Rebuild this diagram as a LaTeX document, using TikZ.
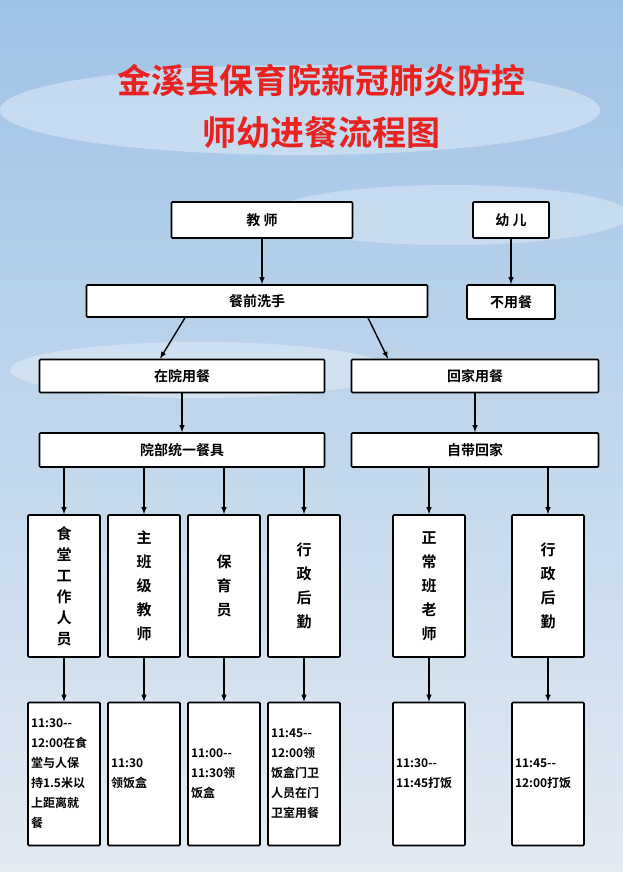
\documentclass[tikz,border=0pt]{standalone}
\usepackage{fontspec}
\setmainfont{Noto Sans CJK SC}[BoldFont={* Bold}]
\usetikzlibrary{positioning}
\definecolor{skytop}{HTML}{9FC3E6}
\definecolor{skybot}{HTML}{E3EAF2}
\definecolor{titlered}{HTML}{E8231F}
\begin{document}
\begin{tikzpicture}
[
 x=1pt,y=-1pt,
 >={latex},
 line width=1.6pt,
 font=\bfseries\fontsize{14}{17}\selectfont,
 box/.style={draw=black,rectangle,fill=white,rounded corners=1pt,inner sep=0pt},
 hbox/.style={box,minimum height=33pt},
 vbox/.style={box,minimum width=72pt,minimum height=142pt,align=center,font=\bfseries\fontsize{15}{24}\selectfont},
 tbox/.style={box,minimum width=72pt,minimum height=143pt,align=left,text width=66pt,font=\bfseries\fontsize{12}{20}\selectfont},
 flow/.style={->,line width=1.4pt}
]
\useasboundingbox (0,0) rectangle (623,872);
\shade[top color=skytop,bottom color=skybot] (0,0) rectangle (623,872);
% clouds
\fill[white,opacity=0.35] (300,110) ellipse (300 and 45);
\fill[white,opacity=0.3] (450,215) ellipse (180 and 30);
\fill[white,opacity=0.3] (200,370) ellipse (190 and 28);
% title
\node (title1) [text=titlered,font=\bfseries\fontsize{34}{38}\selectfont] at (321,80) {金溪县保育院新冠肺炎防控};
\node (title2) [text=titlered,font=\bfseries\fontsize{34}{38}\selectfont] at (321,133) {师幼进餐流程图};
% upper boxes
\node (teacher) [hbox,minimum width=181pt,minimum height=36pt] at (262,220) {教\ 师};
\node (child) [hbox,minimum width=76pt,minimum height=36pt] at (511,220) {幼\ 儿};
\node (wash) [hbox,minimum width=341pt,minimum height=32pt] at (257,301) {餐前洗手};
\node (noeat) [hbox,minimum width=88pt,minimum height=34pt] at (511,302) {不用餐};
\node (inside) [hbox,minimum width=285pt] at (182,376) {在院用餐};
\node (home) [hbox,minimum width=247pt] at (475,376) {回家用餐};
\node (unified) [hbox,minimum width=285pt,minimum height=34pt] at (182,450) {院部统一餐具};
\node (own) [hbox,minimum width=247pt,minimum height=34pt] at (475,450) {自带回家};
% columns
\node (canteen) [vbox,font=\bfseries\fontsize{15}{21}\selectfont] at (64,586) {食\\堂\\工\\作\\人\\员};
\node (mainteach) [vbox] at (144,586) {主\\班\\级\\教\\师};
\node (nurse) [vbox] at (224,586) {保\\育\\员};
\node (admin) [vbox] at (304,586) {行\\政\\后\\勤};
\node (normal) [vbox] at (429,586) {正\\常\\班\\老\\师};
\node (admin2) [vbox] at (548,586) {行\\政\\后\\勤};
\node (t-canteen) [tbox] at (64,774) {11:30-{}-\\12:00在食\\堂与人保\\持1.5米以\\上距离就\\餐};
\node (t-main) [tbox] at (144,774) {11:30\\领饭盒};
\node (t-nurse) [tbox] at (224,774) {11:00-{}-\\11:30领\\饭盒};
\node (t-admin) [tbox] at (304,774) {11:45-{}-\\12:00领\\饭盒门卫\\人员在门\\卫室用餐};
\node (t-normal) [tbox] at (429,774) {11:30-{}-\\11:45打饭};
\node (t-admin2) [tbox] at (548,774) {11:45-{}-\\12:00打饭};
% connectors
\draw[flow] (teacher) -- (teacher |- wash.north);
\draw[flow] (child) -- (noeat);
\draw[flow] (wash.south -| 185,0) -- (inside.north -| 160,0);
\draw[flow] (wash.south -| 368,0) -- (home.north -| 388,0);
\draw[flow] (inside.south -| unified) -- (unified);
\draw[flow] (home) -- (own);
\foreach \c in {canteen,mainteach,nurse,admin}
 \draw[flow] (unified.south -| \c) -- (\c);
\foreach \c in {normal,admin2}
 \draw[flow] (own.south -| \c) -- (\c);
\foreach \c/\t in {canteen/t-canteen,mainteach/t-main,nurse/t-nurse,admin/t-admin,normal/t-normal,admin2/t-admin2}
 \draw[flow] (\c) -- (\t);
\end{tikzpicture}
\end{document}
